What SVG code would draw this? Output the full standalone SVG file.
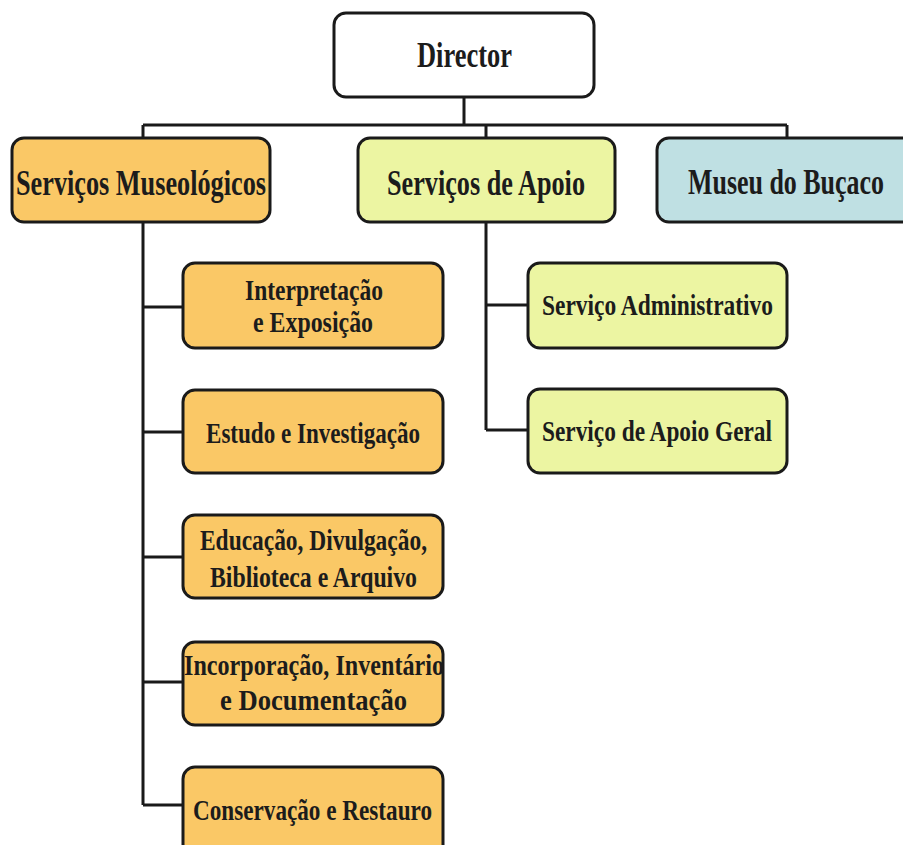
<svg xmlns="http://www.w3.org/2000/svg" width="903" height="845" viewBox="0 0 903 845">
<style>
.box{stroke:#1a1a1a;stroke-width:3}
.w{fill:#ffffff}.o{fill:#FAC866}.y{fill:#ECF5A2}.b{fill:#BFE0E3}
.t{font-family:"Liberation Serif","DejaVu Serif",serif;font-weight:bold;fill:#1c1c1c;text-anchor:middle}
.big{font-size:35px}.mid{font-size:30px}
.c{fill:none;stroke:#1a1a1a;stroke-width:3}
</style>
<rect width="903" height="845" fill="#ffffff"/>
<g id="connectors">
<path class="c" d="M464 97V125M143 125H787M143 125V138M486 125V138M787 125V138"/>
<path class="c" d="M143 222V805M143 307H183M143 432H183M143 557H183M143 682H183M143 805H183"/>
<path class="c" d="M486 222V430M486 305H528M486 430H528"/>
</g>
<g id="director"><rect class="box w" x="334" y="13" width="260" height="84" rx="12"/><text class="t big" x="464.5" y="67" textLength="95" lengthAdjust="spacingAndGlyphs">Director</text></g>
<g id="museologicos"><rect class="box o" x="12" y="138" width="258" height="84" rx="12"/><text class="t big" x="141" y="195" textLength="250" lengthAdjust="spacingAndGlyphs">Serviços Museológicos</text></g>
<g id="apoio"><rect class="box y" x="358" y="138" width="257" height="84" rx="12"/><text class="t big" x="486" y="195" textLength="198" lengthAdjust="spacingAndGlyphs">Serviços de Apoio</text></g>
<g id="bucaco"><rect class="box b" x="657" y="138" width="262" height="84" rx="12"/><text class="t big" x="786" y="194" textLength="196" lengthAdjust="spacingAndGlyphs">Museu do Buçaco</text></g>
<g id="interpretacao"><rect class="box o" x="183" y="263" width="260" height="85" rx="12"/><text class="t mid" x="314" y="300" textLength="138" lengthAdjust="spacingAndGlyphs">Interpretação</text><text class="t mid" x="313" y="332" textLength="120" lengthAdjust="spacingAndGlyphs">e Exposição</text></g>
<g id="estudo"><rect class="box o" x="183" y="390" width="260" height="83" rx="12"/><text class="t mid" x="313" y="443" textLength="214" lengthAdjust="spacingAndGlyphs">Estudo e Investigação</text></g>
<g id="educacao"><rect class="box o" x="183" y="515" width="260" height="83" rx="12"/><text class="t mid" x="313.5" y="550" textLength="227" lengthAdjust="spacingAndGlyphs">Educação, Divulgação,</text><text class="t mid" x="313.5" y="587" textLength="207" lengthAdjust="spacingAndGlyphs">Biblioteca e Arquivo</text></g>
<g id="incorporacao"><rect class="box o" x="183" y="642" width="260" height="83" rx="12"/><text class="t mid" x="314" y="675" textLength="260" lengthAdjust="spacingAndGlyphs">Incorporação, Inventário</text><text class="t mid" x="313.5" y="710" textLength="187" lengthAdjust="spacingAndGlyphs">e Documentação</text></g>
<g id="conservacao"><rect class="box o" x="183" y="767" width="260" height="90" rx="12"/><text class="t mid" x="312.5" y="820" textLength="239" lengthAdjust="spacingAndGlyphs">Conservação e Restauro</text></g>
<g id="administrativo"><rect class="box y" x="528" y="263" width="259" height="85" rx="12"/><text class="t mid" x="657.5" y="315" textLength="231" lengthAdjust="spacingAndGlyphs">Serviço Administrativo</text></g>
<g id="apoiogeral"><rect class="box y" x="528" y="389" width="259" height="84" rx="12"/><text class="t mid" x="657" y="441" textLength="230" lengthAdjust="spacingAndGlyphs">Serviço de Apoio Geral</text></g>
</svg>
